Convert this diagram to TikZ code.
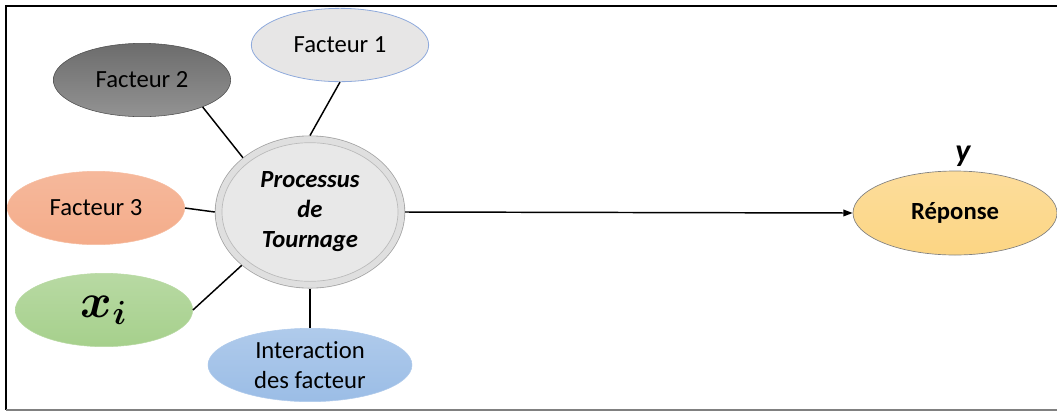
\documentclass[tikz,border=0pt]{standalone}
\usepackage{amsmath,bm}
\usepackage{fontspec}
\setmainfont{Carlito}[Ligatures=CommonOff]
\usetikzlibrary{positioning,arrows.meta,shapes.geometric}
\definecolor{fgrisclair}{HTML}{E7E6E6}
\definecolor{fbleu}{HTML}{8FAADC}
\definecolor{fsaumon}{HTML}{F4AC8A}
\definecolor{fvert}{HTML}{A6D08C}
\definecolor{fazur}{HTML}{9BBDE6}
\definecolor{fjaune}{HTML}{FCD583}
\tikzstyle{facteur}=[ellipse,inner sep=0pt,minimum width=133pt,minimum height=55pt,
  font=\fontsize{18.5}{22.5}\selectfont,align=center]
\begin{document}
\begin{tikzpicture}[x=0.75pt,y=-0.75pt,line width=1.1pt]
    \useasboundingbox (0,0) rectangle (1057,412);
    % cadre
    \draw[line width=1.6pt] (1057,6) -- (6,6) -- (6,410);
    \draw[gray,line width=0.8pt] (6,410) -- (1057,410);

    \node[ellipse,draw=gray!70,line width=0.8pt,fill=gray!18,inner sep=0pt,
          minimum width=142pt,minimum height=114pt,align=center,
          font=\fontsize{18.5}{22.5}\selectfont\bfseries\itshape] (proc) at (310,212)
          {Processus\\de\\Tournage};
    \draw[gray!25,line width=4.5pt] (proc.center) ellipse (68.5pt and 54.5pt);
    \draw[gray!55,line width=0.5pt] (proc.center) ellipse (66pt and 52pt);

    \node[facteur,draw=fbleu,line width=0.6pt,fill=fgrisclair]   (f1) at (340,45)  {Facteur 1};
    \node[facteur,draw=gray!60!black,line width=0.4pt,top color=gray!85!black,bottom color=gray!85] (f2) at (142,80)  {Facteur 2};
    \node[facteur,draw=fsaumon!80,line width=0.4pt,top color=fsaumon!85,bottom color=fsaumon] (f3) at (96,208)  {Facteur 3};
    \node[facteur,draw=fvert!80,line width=0.4pt,top color=fvert!80,bottom color=fvert,
          font=\fontsize{24}{24}\selectfont] (xi) at (104,310) {\scalebox{1.45}{$\bm{x_i}$}};
    \node[facteur,draw=fazur!80,line width=0.4pt,top color=fazur!80,bottom color=fazur,
          minimum width=153pt] (inter) at (310,365) {Interaction\\des facteur};
    \node[facteur,draw=gray,line width=0.5pt,top color=fjaune!80,bottom color=fjaune,
          minimum width=153pt,minimum height=63pt,font=\fontsize{18.5}{22.5}\selectfont\bfseries] (resp) at (955,213) {Réponse};
    \node[above=-1pt of resp.north,xshift=6pt,font=\fontsize{24}{24}\selectfont\bfseries\itshape] (y) {y};

    \draw (f1.south) -- (proc.north);
    \draw (f2.-24) -- (proc.141);
    \draw (f3.east) -- (proc.west);
    \draw (xi.east) -- (proc.-142);
    \draw (inter.north) -- (proc.south);
    \draw[-{Triangle[length=7pt,width=5pt]}] (proc.east) -- (resp.west);
\end{tikzpicture}
\end{document}
